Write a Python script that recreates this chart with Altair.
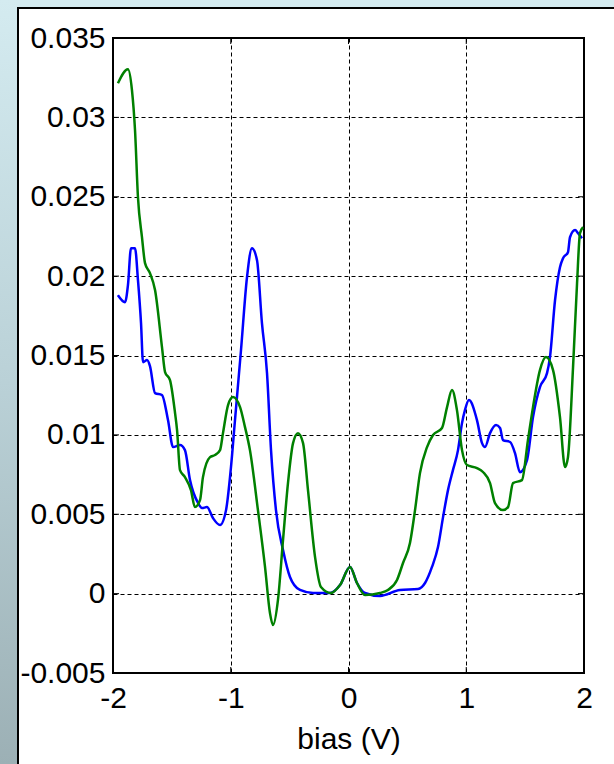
import altair as alt
import pandas as pd

# Differential conductance vs. bias, two traces
bias_blue = [-1.958, -1.898, -1.873, -1.847, -1.813, -1.788, -1.762, -1.745, -1.711, -1.686,
             -1.643, -1.584, -1.533, -1.490, -1.431, -1.389, -1.346, -1.278, -1.244, -1.202,
             -1.151, -1.091, -1.040, -0.998, -0.964, -0.913, -0.862, -0.820, -0.777, -0.735,
             -0.692, -0.658, -0.616, -0.556, -0.497, -0.412, -0.301, -0.157, -0.072, 0.013,
             0.072, 0.140, 0.268, 0.437, 0.590, 0.650, 0.709, 0.760, 0.803, 0.845,
             0.887, 0.930, 0.964, 0.989, 1.023, 1.091, 1.134, 1.159, 1.202, 1.253,
             1.287, 1.312, 1.372, 1.414, 1.456, 1.516, 1.567, 1.626, 1.686, 1.711,
             1.754, 1.796, 1.822, 1.864, 1.881, 1.924, 1.949, 1.983]
cond_blue = [0.01880, 0.01836, 0.01943, 0.02176, 0.02176, 0.01975, 0.01704, 0.01458, 0.01471, 0.01433,
             0.01263, 0.01251, 0.01093, 0.00923, 0.00936, 0.00904, 0.00715, 0.00571, 0.00539, 0.00545,
             0.00476, 0.00432, 0.00526, 0.00797, 0.01093, 0.01533, 0.01993, 0.02176, 0.02100, 0.01704,
             0.01389, 0.00904, 0.00526, 0.00275, 0.00105, 0.00023, 0.00004, 0.00004, 0.00054, 0.00168,
             0.00067, 0.00004, -0.00015, 0.00023, 0.00029, 0.00067, 0.00168, 0.00293, 0.00482, 0.00652,
             0.00778, 0.00904, 0.01074, 0.01156, 0.01219, 0.01093, 0.00948, 0.00923, 0.01011, 0.01062,
             0.01043, 0.00967, 0.00955, 0.00885, 0.00765, 0.00841, 0.01112, 0.01301, 0.01389, 0.01490,
             0.01848, 0.02056, 0.02113, 0.02151, 0.02245, 0.02290, 0.02271, 0.02239]

bias_green = [-1.958, -1.873, -1.839, -1.813, -1.788, -1.754, -1.728, -1.686, -1.643, -1.584,
              -1.558, -1.516, -1.473, -1.456, -1.431, -1.389, -1.338, -1.304, -1.261, -1.236,
              -1.176, -1.134, -1.091, -1.066, -1.023, -0.981, -0.921, -0.879, -0.837, -0.769,
              -0.709, -0.667, -0.641, -0.599, -0.556, -0.514, -0.471, -0.429, -0.386, -0.344,
              -0.284, -0.234, -0.149, -0.072, 0.013, 0.072, 0.140, 0.268, 0.335, 0.412,
              0.463, 0.522, 0.565, 0.607, 0.667, 0.718, 0.794, 0.837, 0.879, 0.921,
              0.964, 1.006, 1.091, 1.142, 1.202, 1.244, 1.312, 1.355, 1.397, 1.473,
              1.524, 1.567, 1.626, 1.677, 1.737, 1.796, 1.839, 1.864, 1.907, 1.941,
              1.966, 1.992]
cond_green = [0.03215, 0.03303, 0.03171, 0.02919, 0.02497, 0.02246, 0.02082, 0.02019, 0.01912, 0.01553,
              0.01396, 0.01345, 0.01137, 0.01030, 0.00778, 0.00734, 0.00652, 0.00545, 0.00589, 0.00734,
              0.00860, 0.00873, 0.00904, 0.01011, 0.01188, 0.01238, 0.01175, 0.01049, 0.00904, 0.00526,
              0.00168, -0.00122, -0.00198, -0.00040, 0.00338, 0.00696, 0.00948, 0.01011, 0.00948, 0.00652,
              0.00230, 0.00042, 0.00004, 0.00054, 0.00168, 0.00067, -0.00009, 0.00004, 0.00023, 0.00086,
              0.00193, 0.00319, 0.00526, 0.00759, 0.00923, 0.00999, 0.01043, 0.01175, 0.01282, 0.01156,
              0.00904, 0.00810, 0.00791, 0.00766, 0.00696, 0.00570, 0.00526, 0.00545, 0.00696, 0.00715,
              0.00967, 0.01175, 0.01408, 0.01490, 0.01408, 0.01112, 0.00797, 0.00860, 0.01427, 0.01955,
              0.02271, 0.02309]

x_ticks = [-2, -1, 0, 1, 2]
y_ticks = [-0.005, 0, 0.005, 0.01, 0.015, 0.02, 0.025, 0.03, 0.035]

W, H = 471, 635
LEFT, TOP = 113, 38
CANVAS_W, CANVAS_H = 614, 764
FONT = "Liberation Sans"
FS = 30

blue_df = pd.DataFrame({"bias": bias_blue, "g": cond_blue, "i": range(len(bias_blue))})
green_df = pd.DataFrame({"bias": bias_green, "g": cond_green, "i": range(len(bias_green))})
xt_df = pd.DataFrame({"bias": x_ticks})
yt_df = pd.DataFrame({"g": y_ticks})
one = pd.DataFrame({"k": [0]})

x_scale = alt.Scale(domain=[-2, 2], nice=False, zero=False)
y_scale = alt.Scale(domain=[-0.005, 0.035], nice=False, zero=False)

grid_style = dict(grid=True, gridDash=[4, 3], gridColor="black", gridWidth=1, gridOpacity=1,
                  ticks=False, domain=False, labelFont=FONT, labelFontSize=FS,
                  labelColor="black", labelOverlap=False, labelFlush=False)

x_axis = alt.Axis(values=x_ticks, title="bias (V)", titleFont=FONT, titleFontSize=FS,
                  titleFontWeight="normal", titleColor="black", titlePadding=11,
                  labelPadding=10,
                  labelExpr="datum.value < 0 ? '-' + format(-datum.value, 'd') : format(datum.value, 'd')",
                  **grid_style)
y_axis = alt.Axis(values=y_ticks, title="", labelPadding=8,
                  labelExpr="datum.value < 0 ? '-' + format(-datum.value, '.3~f') : format(datum.value, '.3~f')",
                  **grid_style)

# window decoration: gradient strips and the black frame edge
strip_fill = alt.Gradient(
    gradient="linear", x1=0, x2=0, y1=0, y2=1,
    stops=[alt.GradientStop(color="#d4ebf0", offset=0),
           alt.GradientStop(color="#bad1d7", offset=0.5),
           alt.GradientStop(color="#9cb0b5", offset=1)],
)
left_strip = alt.Chart(one).mark_rect(color=strip_fill).encode(
    x=alt.value(-LEFT), x2=alt.value(-LEFT + 17),
    y=alt.value(-TOP), y2=alt.value(CANVAS_H - TOP))
top_strip = alt.Chart(one).mark_rect(color="#d4ebf0").encode(
    x=alt.value(-LEFT + 17), x2=alt.value(CANVAS_W - LEFT),
    y=alt.value(-TOP), y2=alt.value(-TOP + 7))
frame_v = alt.Chart(one).mark_rule(color="black", strokeWidth=2).encode(
    x=alt.value(-LEFT + 18), y=alt.value(-TOP + 7), y2=alt.value(CANVAS_H - TOP))
frame_h = alt.Chart(one).mark_rule(color="black", strokeWidth=2).encode(
    y=alt.value(-TOP + 8), x=alt.value(-LEFT + 17), x2=alt.value(CANVAS_W - LEFT))

base_x = alt.X("bias:Q", scale=x_scale, axis=x_axis)
base_y = alt.Y("g:Q", scale=y_scale, axis=y_axis)

blue_line = alt.Chart(blue_df).mark_line(
    color="#0000ff", strokeWidth=2.5, interpolate="monotone").encode(
    x=base_x, y=base_y, order="i:Q")
green_line = alt.Chart(green_df).mark_line(
    color="#008000", strokeWidth=2.5, interpolate="monotone").encode(
    x=base_x, y=base_y, order="i:Q")

# inward tick marks on all four sides
tick_len = 6
xt_top = alt.Chart(xt_df).mark_rule(color="black", strokeWidth=1).encode(
    x=alt.X("bias:Q", scale=x_scale), y=alt.value(0), y2=alt.value(tick_len))
xt_bot = alt.Chart(xt_df).mark_rule(color="black", strokeWidth=1).encode(
    x=alt.X("bias:Q", scale=x_scale), y=alt.value(H - tick_len), y2=alt.value(H))
yt_left = alt.Chart(yt_df).mark_rule(color="black", strokeWidth=1).encode(
    y=alt.Y("g:Q", scale=y_scale), x=alt.value(0), x2=alt.value(tick_len))
yt_right = alt.Chart(yt_df).mark_rule(color="black", strokeWidth=1).encode(
    y=alt.Y("g:Q", scale=y_scale), x=alt.value(W - tick_len), x2=alt.value(W))

chart = alt.layer(
    blue_line, green_line, xt_top, xt_bot, yt_left, yt_right,
    left_strip, top_strip, frame_v, frame_h,
).properties(
    width=W, height=H,
    autosize=alt.AutoSizeParams(type="none"),
    padding={"left": LEFT, "top": TOP, "right": CANVAS_W - LEFT - W, "bottom": CANVAS_H - TOP - H},
    background="white",
).configure_view(stroke="black", strokeWidth=2)

chart.save("out.html", embed_options={"renderer": "svg", "actions": False})
